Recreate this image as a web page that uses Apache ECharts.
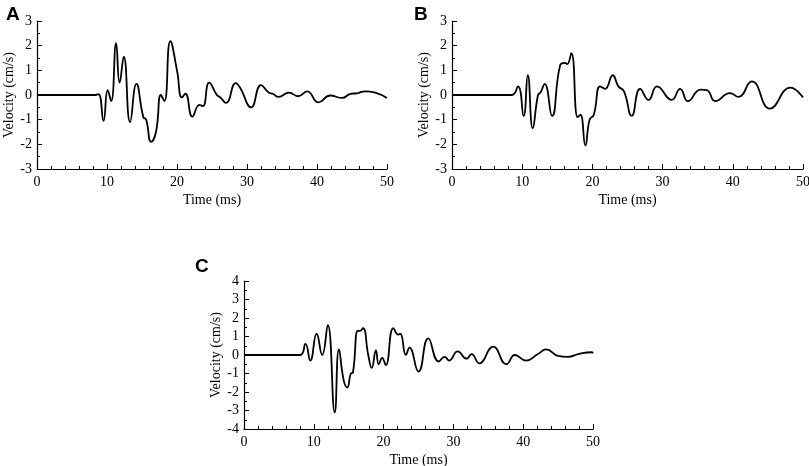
<!DOCTYPE html>
<html style="height: 100%">
<head>
    <meta charset="utf-8">
    <title>Velocity</title>
</head>
<body style="height: 100%; margin: 0; background: #fff">
    <div id="chart" style="width: 809px; height: 466px;"></div>

    <script src="https://cdn.jsdelivr.net/npm/echarts@6/dist/echarts.min.js"></script>

    <script type="text/javascript">
    // panel A
    var timeA = [0, 8.3, 8.8, 9.5, 10.1, 10.6, 11.3, 11.8, 12.4, 13.3, 14.2, 15.2, 15.6, 16.3, 17.0, 17.7, 18.2, 19.05, 20.0, 20.7, 21.2, 22.2, 23.2, 23.7, 24.6, 25.7, 26.2, 27.0, 28.4, 29.0, 30.6, 32.0, 33.1, 33.7, 34.5, 36.0, 37.3, 38.6, 40.2, 41.9, 43.6, 44.8, 45.7, 46.9, 48.3, 50];
    var velA  = [0, 0, 0.03, -1.05, 0.2, -0.25, 2.1, 0.5, 1.55, -1.1, 0.45, -0.9, -1.0, -1.9, -1.5, 0, -0.25, 2.18, 1.0, -0.1, 0.05, -0.88, -0.4, -0.45, 0.5, 0.0, -0.1, -0.32, 0.48, 0.3, -0.5, 0.4, 0.1, 0.05, -0.08, 0.1, -0.05, 0.15, -0.3, -0.02, -0.12, 0.05, 0.07, 0.15, 0.1, -0.12];

    // panel B
    var timeB = [0, 8.5, 9.4, 10.2, 10.8, 11.5, 12.25, 12.6, 13.2, 14.25, 15.4, 16.1, 16.4, 17.0, 17.9, 18.3, 19.0, 19.6, 20.2, 21.1, 21.8, 22.9, 23.7, 24.5, 25.6, 26.8, 28.0, 29.2, 31.3, 32.5, 33.6, 35.4, 36.3, 37.5, 39.6, 40.8, 42.7, 45.3, 48.2, 50];
    var velB  = [0, 0, 0.35, -0.85, 0.8, -1.35, 0, 0.1, 0.45, -0.85, 1.2, 1.3, 1.25, 1.7, -0.9, -0.8, -2.05, -1.0, -0.8, 0.35, 0.25, 0.8, 0.35, 0.15, -0.85, 0.25, -0.2, 0.35, -0.2, 0.25, -0.25, 0.22, 0.2, -0.25, 0.08, -0.08, 0.55, -0.55, 0.3, -0.1];

    // panel C
    var timeC = [0, 8.0, 8.8, 9.5, 10.4, 11.2, 12.0, 13.0, 13.6, 14.3, 14.8, 15.3, 15.6, 16.3, 16.6, 17.05, 17.8, 18.3, 18.9, 19.3, 19.8, 20.3, 21.4, 22.1, 22.4, 23.2, 23.7, 25.0, 26.4, 27.9, 28.75, 29.4, 30.6, 31.9, 32.6, 33.7, 35.7, 37.6, 38.8, 40.4, 42.1, 43.3, 45.0, 46.4, 47.9, 49.8, 50];
    var velC  = [0, 0, 0.6, -0.3, 1.15, 0, 1.62, -3.1, 0.3, -1.4, -1.75, -1.0, -0.95, 1.3, 1.3, 1.45, 0, -0.7, 0.25, -0.5, -0.15, -0.55, 1.45, 1.1, 1.15, 0, 0.4, -0.9, 0.9, -0.35, -0.1, -0.3, 0.2, -0.2, 0.05, -0.45, 0.45, -0.5, 0, -0.3, 0.05, 0.3, -0.05, -0.1, 0.05, 0.15, 0.1];

    function pairs(t, v) {
        var out = [];
        for (var i = 0; i < t.length; i++) {
            out.push([t[i], v[i]]);
        }
        return out;
    }

    var serif = 'Liberation Serif';

    function xAxis(idx) {
        return {
            type: 'value',
            gridIndex: idx,
            min: 0,
            max: 50,
            interval: 10,
            name: 'Time (ms)',
            nameLocation: 'middle',
            nameGap: 24,
            nameTextStyle: { color: '#000', fontFamily: serif, fontSize: 14 },
            axisLine: { onZero: false, lineStyle: { color: '#000', width: 1.2 } },
            axisTick: { inside: true, length: 5, lineStyle: { color: '#000' } },
            minorTick: { show: true, splitNumber: 5, length: 3, lineStyle: { color: '#000' } },
            axisLabel: { color: '#000', fontFamily: serif, fontSize: 14, margin: 6 },
            splitLine: { show: false }
        };
    }

    function yAxis(idx, lim) {
        return {
            type: 'value',
            gridIndex: idx,
            min: -lim,
            max: lim,
            interval: 1,
            name: 'Velocity (cm/s)',
            nameLocation: 'middle',
            nameGap: 19,
            nameTextStyle: { color: '#000', fontFamily: serif, fontSize: 14 },
            axisLine: { show: true, onZero: false, lineStyle: { color: '#000', width: 1.2 } },
            axisTick: { show: true, inside: true, length: 5, lineStyle: { color: '#000' } },
            minorTick: { show: true, splitNumber: 2, length: 3, lineStyle: { color: '#000' } },
            axisLabel: { color: '#000', fontFamily: serif, fontSize: 14, margin: 5 },
            splitLine: { show: false }
        };
    }

    function series(idx, t, v) {
        return {
            type: 'line',
            xAxisIndex: idx,
            yAxisIndex: idx,
            data: pairs(t, v),
            smooth: 0.5,
            showSymbol: false,
            lineStyle: { color: '#000', width: 1.8 },
            animation: false
        };
    }

    var option = {
        backgroundColor: '#fff',
        animation: false,
        title: [
            { text: 'A', left: 1, top: 0, textStyle: { fontFamily: 'Liberation Sans', fontWeight: 'bold', fontSize: 19, color: '#000' } },
            { text: 'B', left: 409, top: 0, textStyle: { fontFamily: 'Liberation Sans', fontWeight: 'bold', fontSize: 19, color: '#000' } },
            { text: 'C', left: 190, top: 252, textStyle: { fontFamily: 'Liberation Sans', fontWeight: 'bold', fontSize: 19, color: '#000' } }
        ],
        grid: [
            { left: 37, right: 422, top: 21, bottom: 297, outerBoundsMode: 'none' },
            { left: 452, right: 6, top: 21, bottom: 297, outerBoundsMode: 'none' },
            { left: 244, right: 216, top: 281, bottom: 37, outerBoundsMode: 'none' }
        ],
        xAxis: [xAxis(0), xAxis(1), xAxis(2)],
        yAxis: [yAxis(0, 3), yAxis(1, 3), yAxis(2, 4)],
        series: [
            series(0, timeA, velA),
            series(1, timeB, velB),
            series(2, timeC, velC)
        ]
    };

    var myChart = echarts.init(document.getElementById('chart'));
    myChart.setOption(option);
    </script>
</body>
</html>
